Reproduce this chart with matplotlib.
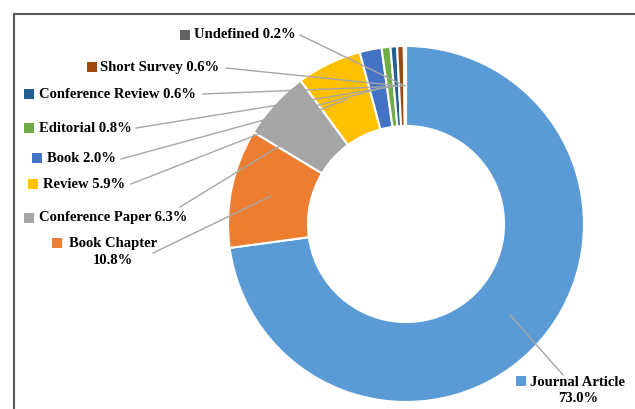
import numpy as np
import matplotlib.pyplot as plt

labels = ["Journal Article", "Book Chapter", "Conference Paper", "Review", "Book",
          "Editorial", "Conference Review", "Short Survey", "Undefined"]
shares = [73.0, 10.8, 6.3, 5.9, 2.0, 0.8, 0.6, 0.6, 0.2]
colors = ["#5B9BD5", "#ED7D31", "#A5A5A5", "#FFC000", "#4472C4",
          "#70AD47", "#255E91", "#9E480E", "#636363"]

W, H = 635, 409
fig = plt.figure(figsize=(W / 100, H / 100), dpi=100)
ax = fig.add_axes([0, 0, 1, 1])

# donut, pixel units (y measured from the bottom)
cx, cy, R, ring = 406, H - 224, 178, 80
wedges, _ = ax.pie(shares, center=(cx, cy), radius=R, startangle=90,
                   counterclock=False, colors=colors, frame=True,
                   wedgeprops=dict(width=ring, edgecolor="white", linewidth=1.5))
ax.set_xlim(0, W)
ax.set_ylim(0, H)
ax.axis("off")

# chart border (left and top edges visible)
ax.plot([14, 14, W], [0, H - 14, H - 14], color="#595959", lw=1.5,
        solid_joinstyle="miter", clip_on=False)

# label layout: marker pos, text pos, line start (pixels from top-left)
layout = {
    "Undefined":         dict(mk=(185, 35), tx=(194, 35), ln=(300, 35)),
    "Short Survey":      dict(mk=(92, 67), tx=(100, 67), ln=(226, 68)),
    "Conference Review": dict(mk=(29, 94), tx=(39, 94), ln=(203, 94)),
    "Editorial":         dict(mk=(29, 128), tx=(39, 128), ln=(136, 128)),
    "Book":              dict(mk=(37, 158), tx=(47, 158), ln=(121, 159)),
    "Review":            dict(mk=(33, 184), tx=(43, 184), ln=(131, 184)),
    "Conference Paper":  dict(mk=(29, 218), tx=(39, 218), ln=(180, 207)),
    "Book Chapter":      dict(mk=(57, 243), tx=(113, 252), ln=(153, 253), two=True),
    "Journal Article":   dict(mk=(521, 381), tx=(578, 390), ln=(563, 375), two=True),
}

font = dict(family="Liberation Serif", weight="bold", size=10.5, color="black")
r_mid = R - ring / 2

for w, lab, val, col in zip(wedges, labels, shares, colors):
    L = layout[lab]
    mid = np.deg2rad((w.theta1 + w.theta2) / 2)
    ex, ey = cx + r_mid * np.cos(mid), cy + r_mid * np.sin(mid)
    sx, sy = L["ln"]
    ax.plot([sx, ex], [H - sy, ey], color="#A6A6A6", lw=1, zorder=3)
    ax.scatter([L["mk"][0]], [H - L["mk"][1]], marker="s", s=50, color=col,
               linewidths=0, zorder=4)
    if L.get("two"):
        ax.text(L["tx"][0], H - L["tx"][1], f"{lab}\n{val:.1f}%", ha="center",
                va="center", multialignment="center", linespacing=1.3, **font)
    else:
        ax.text(L["tx"][0], H - L["tx"][1], f"{lab} {val:.1f}%", ha="left",
                va="center", **font)

fig.savefig("out.png", dpi=100)
